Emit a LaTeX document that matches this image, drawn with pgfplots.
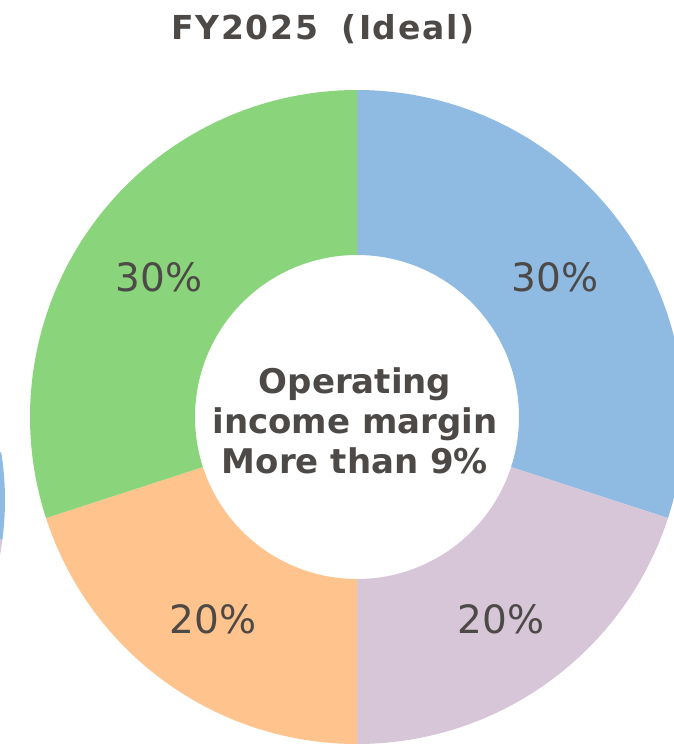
\documentclass[border=0pt]{standalone}
\usepackage{fontspec}
\setmainfont{DejaVu Sans}
\usepackage{pgfplots}
\pgfplotsset{compat=1.18}
\definecolor{cBlue}{HTML}{8FBBE3}
\definecolor{cPurple}{HTML}{D6C6D8}
\definecolor{cOrange}{HTML}{FFC48D}
\definecolor{cGreen}{HTML}{8AD57B}
\definecolor{cText}{HTML}{4D4947}
% #1 cumulative share before slice, #2 share (percent), #3 colour
\newcommand{\donutslice}[3]{%
  \pgfmathsetmacro\sa{90-3.6*#1}%
  \pgfmathsetmacro\ea{90-3.6*(#1+#2)}%
  \pgfmathsetmacro\ma{90-3.6*(#1+#2/2)}%
  \edef\doit{\noexpand\fill[#3] ([shift={(C)}]\sa:327bp)
    arc[start angle=\sa, end angle=\ea, radius=327bp]
    -- ([shift={(C)}]\ea:162bp)
    arc[start angle=\ea, end angle=\sa, radius=162bp] -- cycle;
  \noexpand\node[text=cText, font=\noexpand\fontsize{39bp}{44bp}\noexpand\selectfont, anchor=center, yshift=-4bp]
    at ([shift={(C)}]\ma:245bp) {#2\noexpand\%};}%
  \doit
}
\begin{document}
\begin{tikzpicture}
\useasboundingbox (0,0) rectangle (674bp,744bp);
\clip (0,0) rectangle (674bp,744bp);
\begin{axis}[at={(0,0)}, anchor=south west, scale only axis,
  width=674bp, height=744bp, xmin=0, xmax=674, ymin=0, ymax=744,
  y dir=reverse, hide axis, clip=false]
\coordinate (C) at (axis cs:357,417);
\coordinate (L) at (axis cs:-300,500);
% edge of neighbouring chart
\fill[cBlue] (L) -- ([shift={(L)}]9:305bp) arc[start angle=9, end angle=-7.5, radius=305bp] -- cycle;
\fill[cPurple] (L) -- ([shift={(L)}]-7.5:305bp) arc[start angle=-7.5, end angle=-12, radius=305bp] -- cycle;
% FY2025 shares: 30, 20, 20, 30
\donutslice{0}{30}{cBlue}
\donutslice{30}{20}{cPurple}
\donutslice{50}{20}{cOrange}
\donutslice{70}{30}{cGreen}
\node[text=cText, anchor=base, font=\fontsize{33bp}{36bp}\selectfont\bfseries\addfontfeature{LetterSpace=5}]
  at (axis cs:323,40) {FY2025\hspace{24bp}(\kern2bp Ideal\kern2bp)};
\node[text=cText, anchor=base, font=\fontsize{34bp}{40bp}\selectfont\bfseries] at (axis cs:355,393) {Operating};
\node[text=cText, anchor=base, font=\fontsize{34bp}{40bp}\selectfont\bfseries] at (axis cs:355,433) {income margin};
\node[text=cText, anchor=base, font=\fontsize{34bp}{40bp}\selectfont\bfseries] at (axis cs:355,473) {More than 9\%};
\end{axis}
\end{tikzpicture}
\end{document}
